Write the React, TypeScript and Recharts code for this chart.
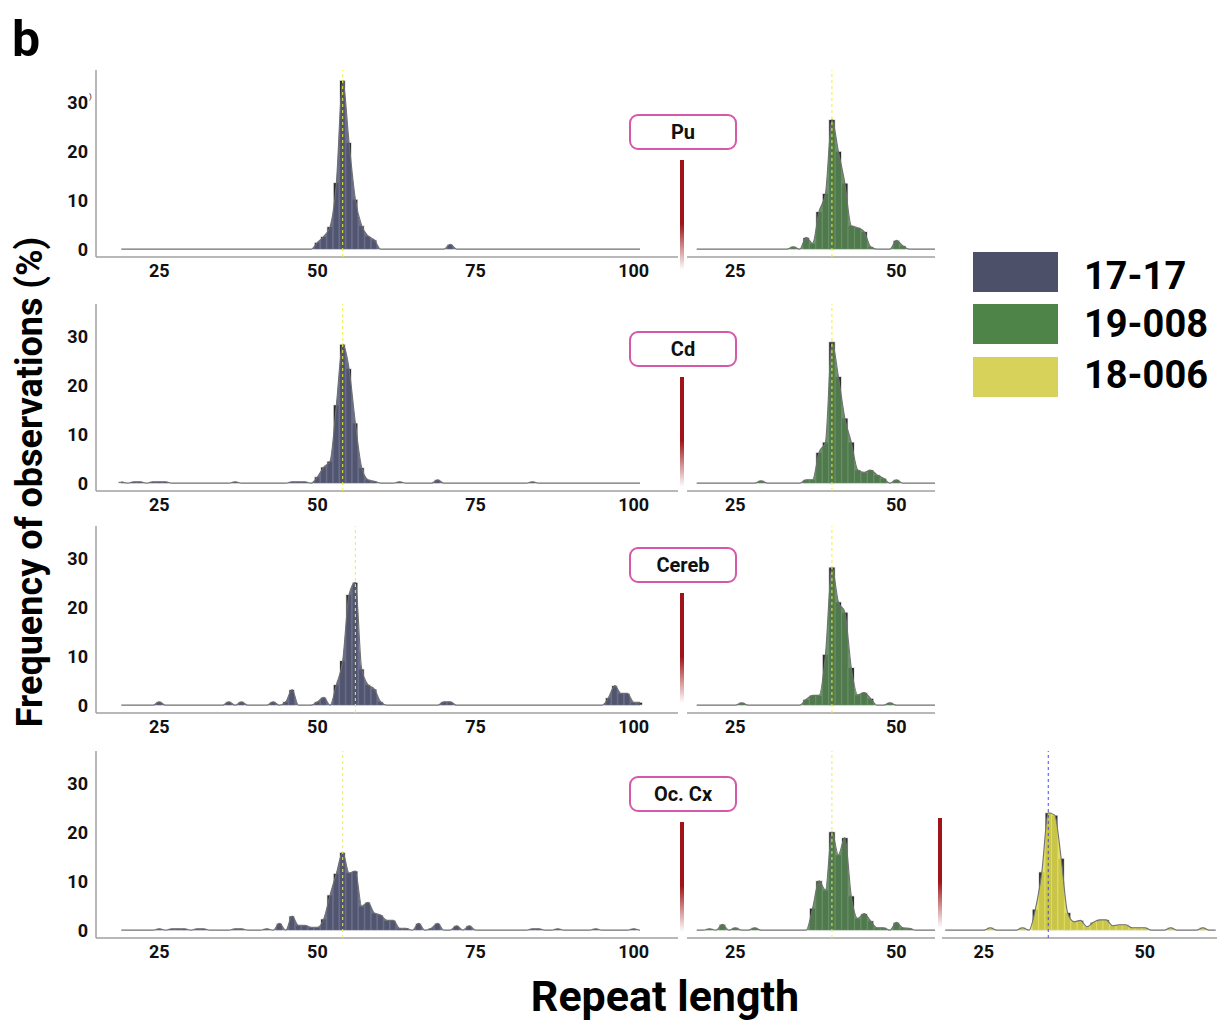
import React from 'react';
import { ComposedChart, Bar, Area, XAxis, YAxis, ReferenceLine } from 'recharts';

// ---------- data: [repeat length, % of observations] ----------
const puA: [number, number][] = [[50,1.4],[51,2.6],[52,4.6],[53,13.6],[54,34.5],[55,21.8],[56,10.2],[57,4.8],[58,2.7],[59,1.9],[71,1.0]];
const puB: [number, number][] = [[34,0.5],[36,2.4],[37,1.2],[38,7.7],[39,11.4],[40,26.5],[41,20.0],[42,13.5],[43,4.8],[44,4.4],[45,3.6],[46,0.5],[50,1.8],[51,0.7]];
const cdA: [number, number][] = [[19,0.3],[21,0.3],[22,0.3],[24,0.3],[25,0.3],[26,0.3],[37,0.3],[46,0.3],[47,0.3],[48,0.3],[50,1.3],[51,3.3],[52,4.5],[53,16.0],[54,28.4],[55,23.4],[56,12.3],[57,3.2],[58,0.7],[59,0.4],[63,0.3],[69,0.7],[84,0.3]];
const cdB: [number, number][] = [[29,0.5],[36,0.7],[37,0.7],[38,6.3],[39,8.4],[40,28.9],[41,21.8],[42,13.3],[43,8.4],[44,2.7],[45,2.2],[46,2.7],[47,1.7],[48,1.0],[50,0.7]];
const cbA: [number, number][] = [[25,0.7],[36,0.7],[38,0.7],[43,0.7],[45,0.7],[46,3.2],[50,0.7],[51,1.6],[53,4.2],[54,9.1],[55,22.6],[56,25.1],[57,7.4],[58,4.2],[59,3.3],[60,0.7],[70,0.7],[71,0.7],[96,1.5],[97,4.0],[98,2.4],[99,2.4],[100,0.6],[101,0.6]];
const cbB: [number, number][] = [[26,0.5],[36,1.2],[37,2.0],[38,2.0],[39,10.4],[40,28.2],[41,21.1],[42,19.0],[43,7.7],[44,2.1],[45,2.6],[46,1.4],[49,0.5]];
const ocA: [number, number][] = [[25,0.3],[27,0.3],[28,0.3],[29,0.3],[31,0.3],[32,0.3],[37,0.3],[38,0.3],[42,0.3],[44,1.4],[46,2.9],[47,1.0],[48,1.0],[49,0.6],[50,0.6],[51,2.3],[52,7.2],[53,11.6],[54,15.9],[55,11.7],[56,12.1],[57,4.9],[58,5.7],[59,3.5],[60,3.1],[61,2.0],[62,2.0],[63,0.4],[64,0.4],[66,1.4],[68,0.4],[69,1.4],[72,0.9],[74,0.9],[84,0.3],[85,0.3],[88,0.3],[94,0.3],[100,0.3]];
const ocB: [number, number][] = [[21,0.3],[23,1.2],[25,0.5],[28,0.5],[37,4.5],[38,10.1],[39,8.2],[40,20.1],[41,15.4],[42,18.9],[43,7.0],[44,2.4],[45,3.4],[46,1.9],[47,0.5],[48,0.5],[50,1.6],[51,0.5],[52,0.4]];
const ocC: [number, number][] = [[26,0.5],[31,0.5],[33,4.3],[34,11.9],[35,24.0],[36,23.5],[37,14.7],[38,3.6],[39,1.7],[40,2.0],[41,0.7],[42,1.6],[43,2.1],[44,2.1],[45,0.9],[46,1.1],[47,1.1],[48,0.5],[49,0.5],[50,0.5],[54,0.5],[59,0.5]];

const regions = ['Pu', 'Cd', 'Cereb', 'Oc. Cx'];
const samples = ['17-17', '19-008', '18-006'];
const sampleColors = ['#4d5069', '#4e8447', '#d6d25a'];
const areaColors = ['#575b7a', '#558452', '#dedb4c'];
const modesA = [54, 54, 56, 54];
const modeB = 40;
const modeC = 35;
const ticksA = [25, 50, 75, 100];
const ticksB = [25, 50];
const ticksY = [0, 10, 20, 30];

function build(pairs: [number, number][], from: number, to: number) {
  const m = new Map(pairs);
  const out: { x: number; y: number; b: number | null }[] = [];
  for (let i = from; i <= to; i++) {
    const v = m.get(i) ?? 0;
    out.push({ x: i, y: v, b: v > 0 ? v : null });
  }
  return out;
}

const FONT = 'Roboto, "DejaVu Sans", sans-serif';
const PLOT_H = 187;
const X_H = 30;
const Y_DOMAIN: [number, number] = [-1.6, 36.6];

type PanelProps = {
  left: number; top: number; plotW: number; domain: [number, number]; ticks: number[];
  data: any[]; color: string; mode: number; modeColor: string; showY: boolean; unit: number; glitch?: boolean;
};

function Panel(p: PanelProps) {
  const yW = p.showY ? 40 : 0;
  const yTick = (props: any) => {
    const v = props.payload.value;
    return (
      <g>
        <text x={props.x} y={props.y} dy="0.355em" textAnchor="end" fill="#111" fontSize={18} fontWeight={700} fontFamily={FONT}>{v}</text>
        {p.glitch && v === 30 ? <text x={props.x + 1} y={props.y - 3} fill="#111" fontSize={8} fontFamily={FONT}>)</text> : null}
      </g>
    );
  };
  const w = p.plotW + yW;
  const h = PLOT_H + X_H;
  const margin = { top: 0, right: 0, bottom: 0, left: 0 };
  return (
    <div style={{ position: 'absolute', left: p.left - yW, top: p.top, width: w, height: h }}>
      {/* layer 1: axes + histogram bars */}
      <div style={{ position: 'absolute', left: 0, top: 0 }}>
        <ComposedChart width={w} height={h} data={p.data} margin={margin} barCategoryGap={0} barGap={0}>
          <XAxis dataKey="x" type="number" domain={p.domain} ticks={p.ticks} allowDataOverflow interval={0}
            tickLine={false} tickSize={0} tickMargin={7} height={X_H} stroke="#a0a0a0" strokeWidth={1.5}
            tick={{ fill: '#111', fontSize: 18, fontWeight: 700, fontFamily: FONT }} />
          <YAxis type="number" domain={Y_DOMAIN} ticks={ticksY} allowDataOverflow hide={!p.showY} width={yW}
            tickLine={false} tickSize={0} tickMargin={8} stroke="#a0a0a0" strokeWidth={1.5} tick={yTick} />
          <Bar dataKey="b" barSize={p.unit} fill="#2c2c2c" stroke="#ffffff" strokeWidth={0.8} isAnimationActive={false} />
        </ComposedChart>
      </div>
      {/* layer 2: smoothed frequency polygon + mode line */}
      <div style={{ position: 'absolute', left: 0, top: 0 }}>
        <ComposedChart width={w} height={h} data={p.data} margin={margin}>
          <XAxis dataKey="x" type="number" domain={p.domain} ticks={p.ticks} allowDataOverflow interval={0}
            tickLine={false} axisLine={false} tick={false} height={X_H} />
          <YAxis type="number" domain={Y_DOMAIN} ticks={ticksY} allowDataOverflow hide={!p.showY} width={yW}
            tickLine={false} axisLine={false} tick={false} />
          <Area dataKey="y" type="monotone" baseValue={0} stroke="#707070" strokeWidth={1.1} fill={p.color} fillOpacity={0.88}
            dot={false} activeDot={false} isAnimationActive={false} />
          <ReferenceLine x={p.mode} stroke={p.modeColor} strokeDasharray="3 3" strokeWidth={1} />
        </ComposedChart>
      </div>
    </div>
  );
}

const rowTops = [70, 304, 526, 751];
const boxTops = [114, 331, 547, 776];
const dataA = [puA, cdA, cbA, ocA];
const dataB = [puB, cdB, cbB, ocB];

function RedBar({ x, top }: { x: number; top: number }) {
  return (
    <div style={{ position: 'absolute', left: x, top, width: 4, height: 110,
      background: 'linear-gradient(to bottom, #a01417 0%, #a01417 58%, rgba(160,20,23,0) 100%)' }} />
  );
}

export default function App() {
  return (
    <div style={{ position: 'absolute', left: 0, top: 0, width: 1217, height: 1021, overflow: 'hidden', background: '#fff', fontFamily: FONT }}>
      {rowTops.map((t, i) => (
        <React.Fragment key={i}>
          <Panel left={96} top={t} plotW={582} domain={[15, 107]} ticks={ticksA} data={build(dataA[i], 19, 101)}
            color={areaColors[0]} mode={modesA[i]} modeColor="#eeee44" showY unit={6.33} glitch={i === 0} />
          <Panel left={687} top={t} plotW={248} domain={[17.5, 56]} ticks={ticksB} data={build(dataB[i], 19, 56)}
            color={areaColors[1]} mode={modeB} modeColor="#eeee44" showY={false} unit={6.44} />
          <div style={{ position: 'absolute', left: 629, top: boxTops[i], width: 104, height: 32, border: '2px solid #d558aa', borderRadius: 9,
            background: '#fff', display: 'flex', alignItems: 'center', justifyContent: 'center', fontSize: 20, fontWeight: 700, color: '#111' }}>
            {regions[i]}
          </div>
          <RedBar x={680} top={boxTops[i] + 46} />
        </React.Fragment>
      ))}
      <Panel left={942} top={rowTops[3]} plotW={275} domain={[18.5, 61.2]} ticks={ticksB} data={build(ocC, 19, 61)}
        color={areaColors[2]} mode={modeC} modeColor="#4a4ae8" showY={false} unit={6.44} />
      <RedBar x={938} top={boxTops[3] + 42} />

      <svg width={1217} height={1021} style={{ position: 'absolute', left: 0, top: 0, pointerEvents: 'none' }}>
        <text x={12} y={56} fontSize={50} fontWeight={700} fontFamily={FONT} fill="#000">b</text>
        <text x={0} y={0} transform="translate(30,482) rotate(-90)" textAnchor="middle" dominantBaseline="central"
          fontSize={36} fontWeight={700} fontFamily={FONT} fill="#000">Frequency of observations (%)</text>
        <text x={665} y={1011} textAnchor="middle" fontSize={43} fontWeight={700} fontFamily={FONT} fill="#000">Repeat length</text>
        {samples.map((s, i) => {
          const ys = [252, 304, 357];
          const bl = [289, 337, 388];
          return (
            <g key={s}>
              <rect x={973} y={ys[i]} width={85} height={40} fill={sampleColors[i]} />
              <text x={1084} y={bl[i]} fontSize={38} fontWeight={700} fontFamily={FONT} fill="#000">{s}</text>
            </g>
          );
        })}
      </svg>
    </div>
  );
}
